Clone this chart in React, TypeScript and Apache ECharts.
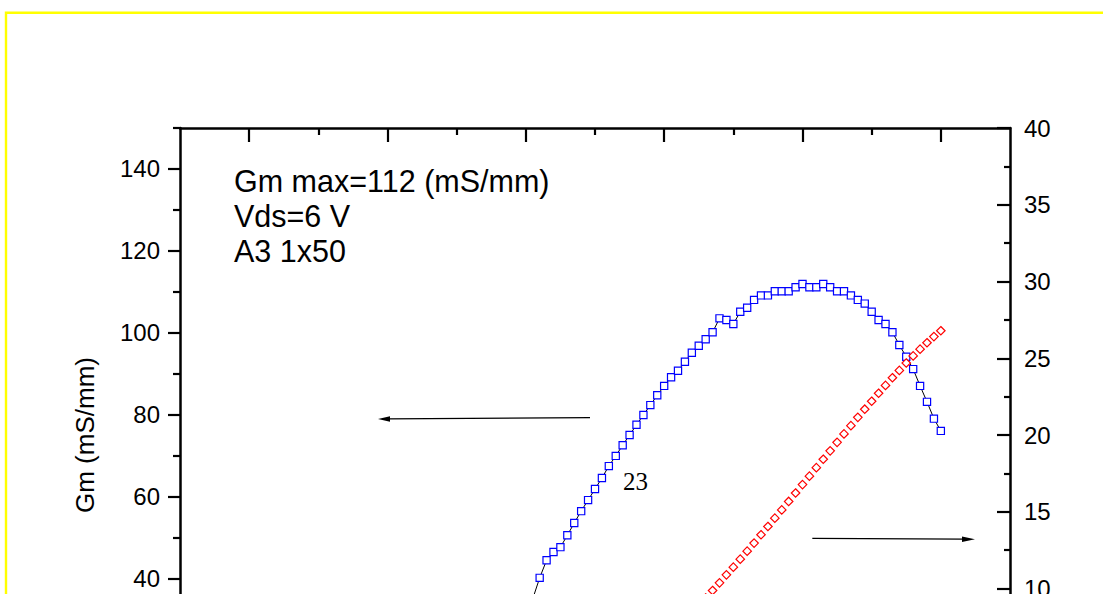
import React, { useEffect, useRef } from 'react';
import * as echarts from 'echarts';

// ---- Data ----
// Gate voltage of each Gm point (x axis, its tick labels lie outside the visible crop)
const vgsGm = [
  0.0, 0.1, 0.2, 0.3, 0.4, 0.5, 0.6, 0.7, 0.8, 0.9,
  1.0, 1.1, 1.2, 1.3, 1.4, 1.5, 1.6, 1.7, 1.8, 1.9,
  2.0, 2.1, 2.2, 2.3, 2.4, 2.5, 2.6, 2.7, 2.8, 2.9,
  3.0, 3.1, 3.2, 3.3, 3.4, 3.5, 3.6, 3.7, 3.8, 3.9,
  4.0, 4.1, 4.2, 4.3, 4.4, 4.5, 4.6, 4.7, 4.8, 4.9,
  5.0, 5.1, 5.2, 5.3, 5.4, 5.5, 5.6, 5.7, 5.8, 5.9, 6.0,
];
// Transconductance Gm (mS/mm), left axis
const gm = [
  29.0, 35.0, 40.1, 44.4, 46.4, 47.6, 50.5, 53.5, 56.4, 59.1,
  61.8, 64.5, 67.4, 69.9, 72.5, 75.0, 77.5, 79.9, 82.3, 84.7,
  87.0, 89.1, 90.7, 92.9, 95.1, 96.8, 98.4, 100.1, 103.5, 103.1,
  102.1, 105.1, 106.1, 108.0, 109.1, 109.1, 110.1, 110.1, 110.1, 111.1,
  111.9, 111.1, 111.1, 111.9, 111.1, 110.1, 110.1, 109.1, 108.0, 107.1,
  105.1, 103.1, 102.1, 100.1, 97.0, 94.1, 91.1, 87.0, 83.1, 79.0, 76.0,
];
// Gate voltage of each drain-current point
const vgsId = [
  2.0, 2.1, 2.2, 2.3, 2.4, 2.5, 2.6, 2.7, 2.8, 2.9,
  3.0, 3.1, 3.2, 3.3, 3.4, 3.5, 3.6, 3.7, 3.8, 3.9,
  4.0, 4.1, 4.2, 4.3, 4.4, 4.5, 4.6, 4.7, 4.8, 4.9,
  5.0, 5.1, 5.2, 5.3, 5.4, 5.5, 5.6, 5.7, 5.8, 5.9, 6.0,
];
// Drain current, right axis
const idValues = [
  6.62, 7.06, 7.50, 7.96, 8.42, 8.90, 9.38, 9.87, 10.37, 10.89,
  11.39, 11.91, 12.43, 12.96, 13.50, 14.04, 14.58, 15.12, 15.67, 16.22,
  16.77, 17.32, 17.87, 18.42, 18.97, 19.52, 20.07, 20.61, 21.15, 21.68,
  22.20, 22.72, 23.23, 23.73, 24.21, 24.69, 25.15, 25.59, 26.01, 26.41, 26.79,
];

// Axis ticks and the tick labels that the crop shows
const leftTicks = [0, 20, 40, 60, 80, 100, 120, 140];
const leftMinorTicks = [10, 30, 50, 70, 90, 110, 130, 150];
const leftLabels = [40, 60, 80, 100, 120, 140];
const rightLabels = [10, 15, 20, 25, 30, 35, 40];
const topMajorTicks = [-4, -2, 0, 2, 4, 6];
const topMinorTicks = [-3, -1, 1, 3, 5];

// Texts
const yAxisTitle = 'Gm (mS/mm)';
const noteLines = ['Gm max=112 (mS/mm)', 'Vds=6 V', 'A3 1x50'];
const curveLabel = '23';

const SANS = '"Liberation Sans", Arial, Helvetica, sans-serif';
const SERIF = '"Liberation Serif", "Times New Roman", serif';

function buildOption(): any {
  const gridRect = { left: 180, top: 128, width: 830, height: 614, containLabel: false };
  const axisLine = { show: true, onZero: false, lineStyle: { color: '#000', width: 2.5 } };
  const noLine = { show: false, onZero: false };
  const tickStyle = { color: '#000', width: 2.2 };
  return {
    animation: false,
    backgroundColor: '#ffffff',
    grid: [{ ...gridRect }, { ...gridRect }],
    xAxis: [
      {
        type: 'value', gridIndex: 0, position: 'bottom', min: -5, max: 7,
        axisLine,
        axisTick: { show: true, inside: true, length: 14, customValues: topMajorTicks, lineStyle: tickStyle },
        axisLabel: { show: false },
        splitLine: { show: false },
      },
      {
        type: 'value', gridIndex: 0, position: 'top', min: -5, max: 7,
        axisLine,
        axisTick: { show: true, inside: true, length: 14, customValues: topMajorTicks, lineStyle: tickStyle },
        axisLabel: { show: false },
        splitLine: { show: false },
      },
      {
        type: 'value', gridIndex: 1, position: 'top', min: -5, max: 7,
        axisLine: noLine,
        axisTick: { show: true, inside: true, length: 7, customValues: topMinorTicks, lineStyle: tickStyle },
        axisLabel: { show: false },
        splitLine: { show: false },
      },
    ],
    yAxis: [
      {
        type: 'value', gridIndex: 0, position: 'left', min: 0, max: 150,
        axisLine,
        axisTick: { show: true, inside: false, length: 12, customValues: leftTicks, lineStyle: tickStyle },
        axisLabel: {
          show: true, customValues: leftLabels,
          fontSize: 24, fontFamily: SANS, color: '#000', margin: 20,
        },
        name: yAxisTitle,
        nameLocation: 'middle',
        nameRotate: 90,
        nameGap: 82,
        nameTextStyle: { fontSize: 26, fontFamily: SANS, color: '#000' },
        splitLine: { show: false },
      },
      {
        type: 'value', gridIndex: 0, position: 'right', min: 0, max: 40, interval: 5,
        axisLine,
        axisTick: { show: true, inside: true, length: 13, lineStyle: tickStyle },
        minorTick: { show: true, splitNumber: 2, length: 6, lineStyle: tickStyle },
        axisLabel: { show: true, customValues: rightLabels, fontSize: 24, fontFamily: SANS, color: '#000', margin: 14 },
        splitLine: { show: false },
        minorSplitLine: { show: false },
      },
      {
        type: 'value', gridIndex: 1, position: 'left', min: 0, max: 150,
        axisLine: noLine,
        axisTick: { show: true, inside: false, length: 7, customValues: leftMinorTicks, lineStyle: tickStyle },
        axisLabel: { show: false },
        splitLine: { show: false },
      },
    ],
    series: [
      {
        type: 'line',
        name: 'Gm',
        xAxisIndex: 0,
        yAxisIndex: 0,
        data: vgsGm.map((v, i) => [v, gm[i]]),
        symbol: 'rect',
        symbolSize: 7.2,
        showSymbol: true,
        showAllSymbol: true,
        itemStyle: { color: '#ffffff', borderColor: '#0000ff', borderWidth: 1.2 },
        lineStyle: { color: '#000', width: 1 },
        emphasis: { disabled: true },
        z: 2,
      },
      {
        type: 'line',
        name: 'Id',
        xAxisIndex: 0,
        yAxisIndex: 1,
        data: vgsId.map((v, i) => [v, idValues[i]]),
        symbol: 'diamond',
        symbolSize: 8.5,
        showSymbol: true,
        showAllSymbol: true,
        itemStyle: { color: '#ffffff', borderColor: '#ff0000', borderWidth: 1.2 },
        lineStyle: { width: 0, opacity: 0 },
        emphasis: { disabled: true },
        z: 3,
      },
    ],
    graphic: [
      {
        type: 'rect', silent: true, z: 100,
        shape: { x: 6, y: 12.8, width: 1400, height: 1200 },
        style: { fill: 'none', stroke: '#ffff00', lineWidth: 2.4 },
      },
      ...noteLines.map((t, i) => ({
        type: 'text', silent: true, z: 100,
        x: 234, y: 181 + i * 35,
        style: { text: t, fill: '#000', fontSize: 30.5, fontFamily: SANS, align: 'left', verticalAlign: 'middle' },
      })),
      {
        type: 'text', silent: true, z: 100,
        x: 635.5, y: 481,
        style: { text: curveLabel, fill: '#000', fontSize: 25, fontFamily: SERIF, align: 'center', verticalAlign: 'middle' },
      },
      {
        type: 'line', silent: true, z: 100,
        shape: { x1: 590, y1: 417.7, x2: 388, y2: 418.9 },
        style: { stroke: '#000', lineWidth: 1.3 },
      },
      {
        type: 'polygon', silent: true, z: 100,
        shape: { points: [[378, 419], [390, 416.2], [390, 421.8]] },
        style: { fill: '#000' },
      },
      {
        type: 'line', silent: true, z: 100,
        shape: { x1: 812.3, y1: 538.3, x2: 964, y2: 539.2 },
        style: { stroke: '#000', lineWidth: 1.3 },
      },
      {
        type: 'polygon', silent: true, z: 100,
        shape: { points: [[975, 539.3], [962, 536.5], [962, 542.1]] },
        style: { fill: '#000' },
      },
    ],
  };
}

export default function App() {
  const ref = useRef<HTMLDivElement>(null);
  useEffect(() => {
    if (!ref.current) return;
    const chart = echarts.init(ref.current, null, { renderer: 'svg' });
    chart.setOption(buildOption());
    return () => {
      chart.dispose();
    };
  }, []);
  return (
    <div
      style={{
        position: 'fixed', left: 0, top: 0, width: 1103, height: 594,
        overflow: 'hidden', background: '#ffffff',
      }}
    >
      <div ref={ref} style={{ width: 1103, height: 800 }} />
    </div>
  );
}
